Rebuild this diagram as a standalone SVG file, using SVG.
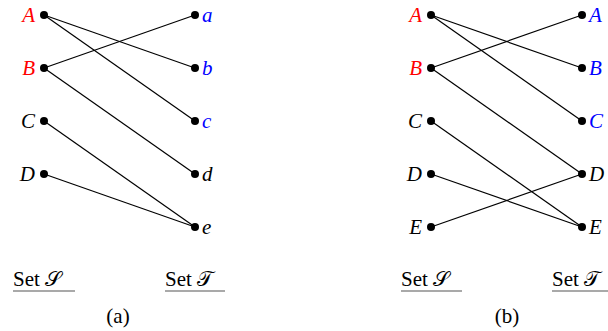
<svg xmlns="http://www.w3.org/2000/svg" width="608" height="331" viewBox="0 0 608 331">
<style>
.lbl{font-style:italic;font-size:21px}
.l{text-anchor:end}
.red{fill:#ff0000}
.blue{fill:#0000ff}
.blk{fill:#000}
.dot{fill:#000}
.edge{stroke:#000;stroke-width:1.2;fill:none}
.set{font-size:21px;fill:#000}
.ul{stroke:#555;stroke-width:1.2}
.cap{font-size:21px;text-anchor:middle;fill:#000}
</style>
<rect width="608" height="331" fill="#fff"/>
<g id="edges">
<line class="edge" x1="44" y1="15" x2="195" y2="68"/>
<line class="edge" x1="44" y1="15" x2="195" y2="121"/>
<line class="edge" x1="44" y1="68" x2="195" y2="15"/>
<line class="edge" x1="44" y1="68" x2="195" y2="174"/>
<line class="edge" x1="44" y1="121" x2="195" y2="227"/>
<line class="edge" x1="44" y1="174" x2="195" y2="227"/>
<line class="edge" x1="431" y1="15" x2="582" y2="68"/>
<line class="edge" x1="431" y1="15" x2="582" y2="121"/>
<line class="edge" x1="431" y1="68" x2="582" y2="15"/>
<line class="edge" x1="431" y1="68" x2="582" y2="174"/>
<line class="edge" x1="431" y1="121" x2="582" y2="227"/>
<line class="edge" x1="431" y1="174" x2="582" y2="227"/>
<line class="edge" x1="431" y1="227" x2="582" y2="174"/>
</g>
<g font-family="Liberation Serif, serif">
<g id="a-S-A"><circle class="dot" cx="44" cy="15" r="4"/><text class="lbl l red" x="35" y="22">A</text></g>
<g id="a-S-B"><circle class="dot" cx="44" cy="68" r="4"/><text class="lbl l red" x="35" y="75">B</text></g>
<g id="a-S-C"><circle class="dot" cx="44" cy="121" r="4"/><text class="lbl l blk" x="35" y="128">C</text></g>
<g id="a-S-D"><circle class="dot" cx="44" cy="174" r="4"/><text class="lbl l blk" x="35" y="181">D</text></g>
<g id="a-T-a"><circle class="dot" cx="195" cy="15" r="4"/><text class="lbl blue" x="202" y="22">a</text></g>
<g id="a-T-b"><circle class="dot" cx="195" cy="68" r="4"/><text class="lbl blue" x="202" y="75">b</text></g>
<g id="a-T-c"><circle class="dot" cx="195" cy="121" r="4"/><text class="lbl blue" x="202" y="128">c</text></g>
<g id="a-T-d"><circle class="dot" cx="195" cy="174" r="4"/><text class="lbl blk" x="202" y="181">d</text></g>
<g id="a-T-e"><circle class="dot" cx="195" cy="227" r="4"/><text class="lbl blk" x="202" y="234">e</text></g>
<g id="b-S-A"><circle class="dot" cx="431" cy="15" r="4"/><text class="lbl l red" x="422" y="22">A</text></g>
<g id="b-S-B"><circle class="dot" cx="431" cy="68" r="4"/><text class="lbl l red" x="422" y="75">B</text></g>
<g id="b-S-C"><circle class="dot" cx="431" cy="121" r="4"/><text class="lbl l blk" x="422" y="128">C</text></g>
<g id="b-S-D"><circle class="dot" cx="431" cy="174" r="4"/><text class="lbl l blk" x="422" y="181">D</text></g>
<g id="b-S-E"><circle class="dot" cx="431" cy="227" r="4"/><text class="lbl l blk" x="422" y="234">E</text></g>
<g id="b-T-A"><circle class="dot" cx="582" cy="15" r="4"/><text class="lbl blue" x="589" y="22">A</text></g>
<g id="b-T-B"><circle class="dot" cx="582" cy="68" r="4"/><text class="lbl blue" x="589" y="75">B</text></g>
<g id="b-T-C"><circle class="dot" cx="582" cy="121" r="4"/><text class="lbl blue" x="589" y="128">C</text></g>
<g id="b-T-D"><circle class="dot" cx="582" cy="174" r="4"/><text class="lbl blk" x="589" y="181">D</text></g>
<g id="b-T-E"><circle class="dot" cx="582" cy="227" r="4"/><text class="lbl blk" x="589" y="234">E</text></g>
<g id="captions">
<text class="set" x="13" y="286">Set <tspan font-family="DejaVu Serif, serif">𝒮</tspan></text>
<line class="ul" x1="13" y1="291" x2="75" y2="291"/>
<text class="set" x="165" y="286">Set <tspan font-family="DejaVu Serif, serif">𝒯</tspan></text>
<line class="ul" x1="165" y1="291" x2="225" y2="291"/>
<text class="cap" x="118" y="323">(a)</text>
<text class="set" x="401" y="286">Set <tspan font-family="DejaVu Serif, serif">𝒮</tspan></text>
<line class="ul" x1="401" y1="291" x2="462" y2="291"/>
<text class="set" x="552" y="286">Set <tspan font-family="DejaVu Serif, serif">𝒯</tspan></text>
<line class="ul" x1="552" y1="291" x2="614" y2="291"/>
<text class="cap" x="507" y="323">(b)</text>
</g>
</g>
</svg>
